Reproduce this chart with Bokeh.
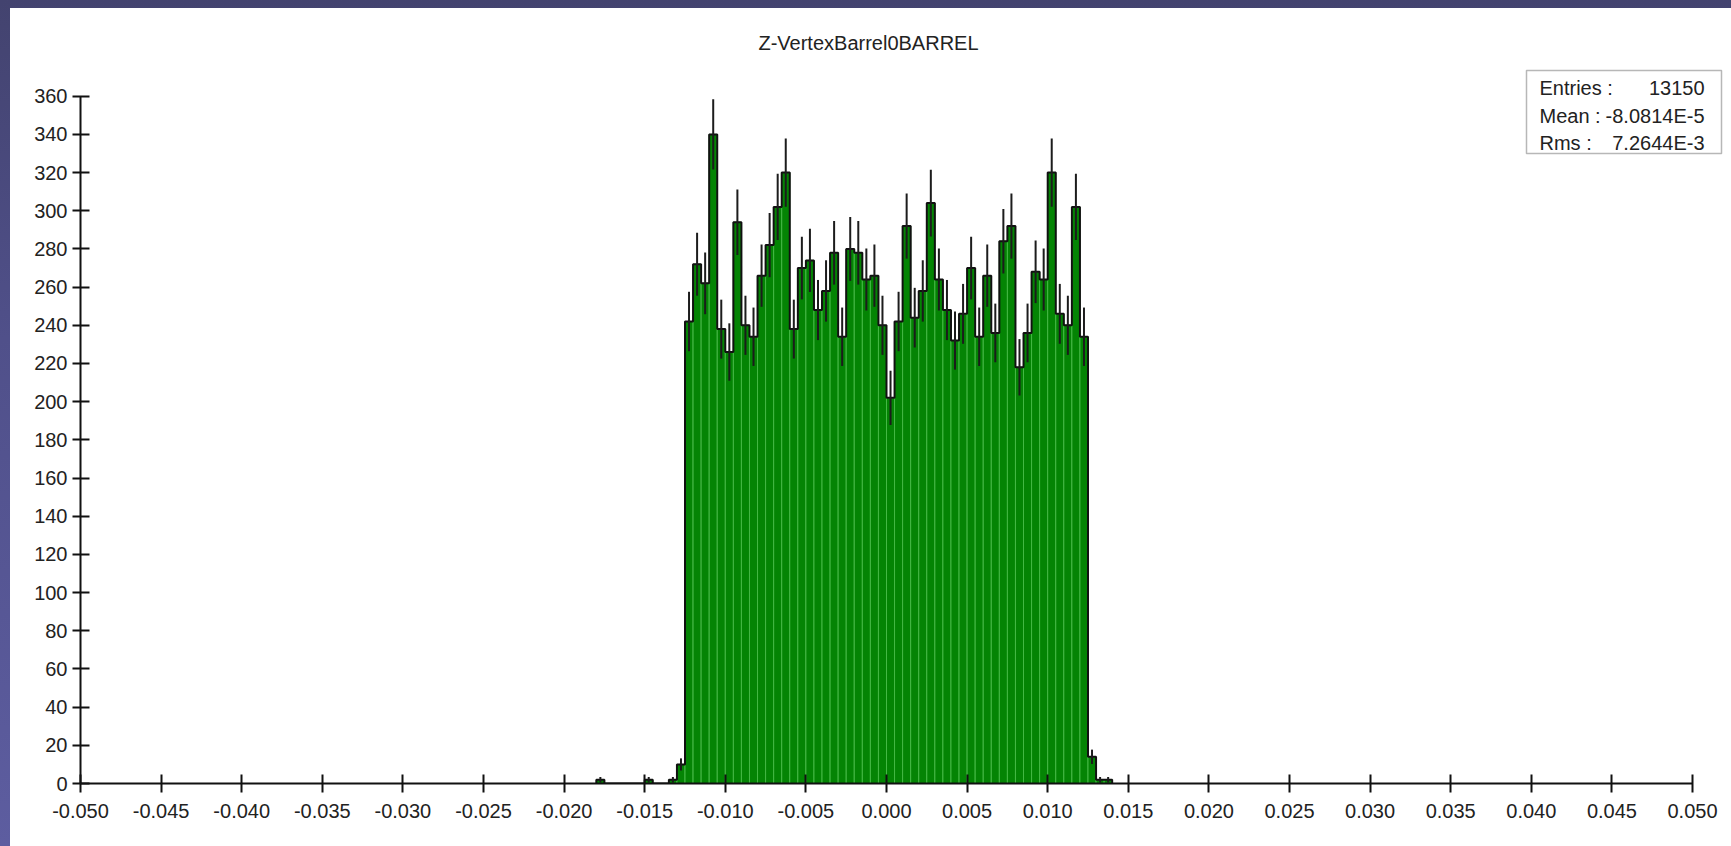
import numpy as np
from bokeh.plotting import figure
from bokeh.models import Range1d, FixedTicker, Label, BoxAnnotation
from bokeh.embed import file_html
from bokeh.resources import INLINE

# ---------------- data ----------------
title_text = "Z-VertexBarrel0BARREL"
bin_width = 0.0005
first_bin_edge = -0.018
counts_left_tail = [2, 0, 0, 0, 0, 0, 2, 0, 0, 2, 10]
counts_core = [242, 272, 262, 340, 238, 226, 294, 240, 234, 266,
               282, 302, 320, 238, 270, 274, 248, 258, 278, 234,
               280, 278, 264, 266, 240, 202, 242, 292, 244, 258,
               304, 264, 248, 232, 246, 270, 234, 266, 236, 284,
               292, 218, 236, 268, 264, 320, 246, 240, 302, 234]
counts_right_tail = [14, 2, 2]

x_tick_values = [-0.050, -0.045, -0.040, -0.035, -0.030, -0.025, -0.020, -0.015,
                 -0.010, -0.005, 0.000, 0.005, 0.010, 0.015, 0.020, 0.025,
                 0.030, 0.035, 0.040, 0.045, 0.050]
x_tick_labels = ["-0.050", "-0.045", "-0.040", "-0.035", "-0.030", "-0.025", "-0.020", "-0.015",
                 "-0.010", "-0.005", "0.000", "0.005", "0.010", "0.015", "0.020", "0.025",
                 "0.030", "0.035", "0.040", "0.045", "0.050"]
y_tick_values = [0, 20, 40, 60, 80, 100, 120, 140, 160, 180, 200,
                 220, 240, 260, 280, 300, 320, 340, 360]
x_axis_extent = (-0.050, 0.050)
y_axis_extent = (0, 360)

stats_names = ["Entries :", "Mean :", "Rms :"]
stats_values = ["13150", "-8.0814E-5", "7.2644E-3"]

# ---------------- derived ----------------
counts = np.array(counts_left_tail + counts_core + counts_right_tail, dtype=float)
edges = first_bin_edge + bin_width * np.arange(len(counts) + 1)
left = edges[:-1]
right = edges[1:]
centers = 0.5 * (left + right)
nz = counts > 0
err = np.sqrt(counts)

step_x = np.repeat(edges, 2)
step_y = np.concatenate([[0.0], np.repeat(counts, 2), [0.0]])

# ---------------- layout ----------------
W, H = 1721, 838
B_LEFT, B_RIGHT, B_TOP, B_BOTTOM = 70, 5, 7, 63
frame_w = W - B_LEFT - B_RIGHT
frame_h = H - B_TOP - B_BOTTOM
px_per_x = 1612.0 / (x_axis_extent[1] - x_axis_extent[0])
px_per_y = 687.3 / (y_axis_extent[1] - y_axis_extent[0])
x_end = x_axis_extent[0] + frame_w / px_per_x
y_end = y_axis_extent[0] + frame_h / px_per_y

FONT = "Liberation Sans"
TXT = "#222222"

p = figure(width=W, height=H,
           x_range=Range1d(x_axis_extent[0], x_end),
           y_range=Range1d(y_axis_extent[0], y_end),
           output_backend="svg", toolbar_location=None,
           min_border_left=B_LEFT, min_border_right=B_RIGHT,
           min_border_top=B_TOP, min_border_bottom=B_BOTTOM,
           margin=(8, 0, 0, 10))
p.outline_line_color = None
p.background_fill_color = None
p.border_fill_color = None
p.styles = {"background-color": "white"}
p.grid.visible = False

# bars
p.quad(left=left[nz], right=right[nz], bottom=0, top=counts[nz],
       fill_color="#048404", line_color="#45b845", line_width=1)
# outline
p.line(step_x, step_y, line_color="#111111", line_width=2)
# error bars
p.segment(x0=centers[nz], y0=np.clip(counts[nz] - err[nz], 0, None),
          x1=centers[nz], y1=counts[nz] + err[nz],
          line_color="#1c1c1c", line_width=2)

# axes
for ax in (p.xaxis[0], p.yaxis[0]):
    ax.axis_line_color = "#111111"
    ax.axis_line_width = 2
    ax.major_tick_line_color = "#111111"
    ax.major_tick_line_width = 2
    ax.minor_tick_line_color = None
    ax.major_label_text_font = FONT
    ax.major_label_text_font_size = "20px"
    ax.major_label_text_color = TXT

xa = p.xaxis[0]
xa.bounds = x_axis_extent
xa.ticker = FixedTicker(ticks=x_tick_values)
xa.major_label_overrides = {v: s for v, s in zip(x_tick_values, x_tick_labels)}
xa.major_tick_in = 9
xa.major_tick_out = 9
xa.major_label_standoff = 11

ya = p.yaxis[0]
ya.bounds = y_axis_extent
ya.ticker = FixedTicker(ticks=y_tick_values)
ya.major_tick_in = 9
ya.major_tick_out = 8
ya.major_label_standoff = 5

# title (frame-relative screen units)
p.add_layout(Label(x=788, y=741, x_units="screen", y_units="screen",
                   text=title_text, text_align="center", text_baseline="middle",
                   text_font=FONT, text_font_size="20px", text_color=TXT))

# stats box
p.add_layout(BoxAnnotation(left=1446, right=1641, bottom=630, top=713,
                           left_units="screen", right_units="screen",
                           bottom_units="screen", top_units="screen",
                           fill_color="white", fill_alpha=1.0,
                           line_color="#111111", line_width=1.5))
row_y = [696, 668, 641]
for name, val, yy in zip(stats_names, stats_values, row_y):
    p.add_layout(Label(x=1459, y=yy, x_units="screen", y_units="screen",
                       text=name, text_align="left", text_baseline="middle",
                       text_font=FONT, text_font_size="20px", text_color=TXT))
    p.add_layout(Label(x=1624, y=yy, x_units="screen", y_units="screen",
                       text=val, text_align="right", text_baseline="middle",
                       text_font=FONT, text_font_size="20px", text_color=TXT))

html = file_html(p, INLINE)
style = ("<style>html,body{margin:0;padding:0;"
         "background:linear-gradient(to bottom,#43436f 0%,#50508a 40%,#5d5da0 100%);}</style>")
html = html.replace("</head>", style + "</head>", 1)
open("out.html", "w").write(html)
